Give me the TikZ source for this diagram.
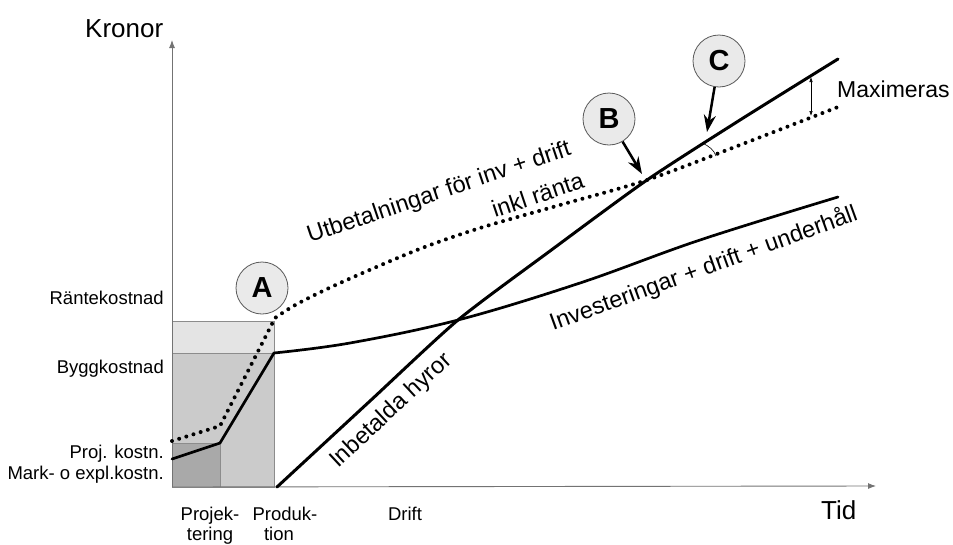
\documentclass[tikz,border=0pt]{standalone}
\usepackage{fontspec}
\setmainfont{Liberation Sans}
\usetikzlibrary{arrows.meta}
\definecolor{shadeL}{HTML}{E4E4E4}
\definecolor{shadeM}{HTML}{CBCBCB}
\definecolor{shadeD}{HTML}{A9A9A9}
\definecolor{circfill}{HTML}{EAEAEA}
\begin{document}
\begin{tikzpicture}[x=1pt,y=-1pt,
  lbl/.style={font=\fontsize{18.5}{23}\selectfont, inner sep=0pt},
  big/.style={font=\fontsize{26}{30}\selectfont, inner sep=0pt},
  curvelbl/.style={font=\fontsize{23.5}{27}\selectfont, inner sep=0pt},
  circ/.style={circle, draw=black!65, line width=0.8pt, fill=circfill, minimum size=52pt, inner sep=0pt, font=\fontsize{29}{32}\selectfont\bfseries},
  axis/.style={draw=black!55, line width=0.9pt},
  boxedge/.style={draw=black!45, line width=0.7pt},
  mainline/.style={line width=3pt, line cap=round, line join=round},
  dotline/.style={line width=4pt, line cap=round, dash pattern=on 0pt off 7.5pt},
  pointer/.style={line width=2.5pt, -{Stealth[length=17pt, width=12pt]}},
]
\useasboundingbox (0,0) rectangle (953,544);

% shaded cost areas
\fill[shadeL, boxedge] (172,321) rectangle (274,487);
\fill[shadeM, boxedge] (172,353) rectangle (274,487);
\fill[shadeD, boxedge] (172,443) rectangle (220,487);

% axes
\coordinate (O) at (172,487);
\coordinate (ytop) at (172,40);
\coordinate (xend) at (876,486);
\draw[axis, -{Latex[length=8pt,width=6pt]}] (O) -- (ytop);
\draw[axis, -{Latex[length=8pt,width=6pt]}] (O) -- (xend);

% curves
\draw[mainline] plot[smooth, tension=0.4] coordinates {(277,487) (370,401) (458,320) (550,251) (647,180) (740,120) (838,59)};
\draw[mainline, line width=2.7pt] (172,459) -- (220,443) -- plot[smooth, tension=0.6] coordinates {(274,353) (350,343) (458,320) (580,283) (700,240) (838,197)};
\draw[dotline] (172,441) -- (220,426) -- plot[smooth, tension=0.5] coordinates {(275,318) (297,304) (340,283) (417,250) (480,228) (560,205) (647,180) (740,145) (838,107)};

% maximeras marker and angle arc
\coordinate (m1) at (811,77);
\coordinate (m2) at (811,116);
\draw[line width=0.6pt, {Latex[length=5pt,width=3.5pt]}-{Latex[length=5pt,width=3.5pt]}] (m1) -- (m2);
\coordinate (a1) at (702,143);
\coordinate (a2) at (716,156);
\draw[line width=0.6pt] (a1) .. controls (709,146) and (714,150) .. (a2);

% circles and pointers
\node[circ] (A) at (262,288) {A};
\node[circ] (B) at (609,119) {B};
\node[circ] (C) at (719,61) {C};
\coordinate (Btip) at (642,174);
\coordinate (Ctip) at (707,132);
\draw[pointer] (B) -- (Btip);
\draw[pointer] (C) -- (Ctip);

% axis labels
\node[big, anchor=base west] (kronor) at (85,37) {Kronor};
\node[big, anchor=base west] (tid) at (821,519) {Tid};
\node[font=\fontsize{23}{26}\selectfont, inner sep=0pt, anchor=base west] (max) at (837,97) {Maximeras};

% left labels
\node[lbl, anchor=base east] (rk) at (164,304) {Räntekostnad};
\node[lbl, anchor=base east] (bk) at (164,373) {Byggkostnad};
\node[lbl, anchor=base east] (pk) at (164,458) {Proj. kostn.};
\node[lbl, anchor=base east] (mk) at (164,479) {Mark- o expl.kostn.};

% bottom labels
\node[lbl, anchor=base] (p1) at (210,520) {Projek-};
\node[lbl, anchor=base] (p2) at (210,540) {tering};
\node[lbl, anchor=base] (q1) at (285,520) {Produk-};
\node[lbl, anchor=base] (q2) at (279,540) {tion};
\node[lbl, anchor=base] (dr) at (405,520) {Drift};

% curve labels
\node[curvelbl, anchor=base west, rotate=18.6] (ut1) at (310,243) {Utbetalningar för inv + drift};
\node[curvelbl, anchor=base west, rotate=18.6] (ut2) at (495,218) {inkl ränta};
\node[curvelbl, anchor=base west, rotate=20] (inv) at (553,331) {Investeringar + drift + underhåll};
\node[curvelbl, anchor=base west, rotate=43] (hyr) at (338,469) {Inbetalda hyror};
\end{tikzpicture}
\end{document}
